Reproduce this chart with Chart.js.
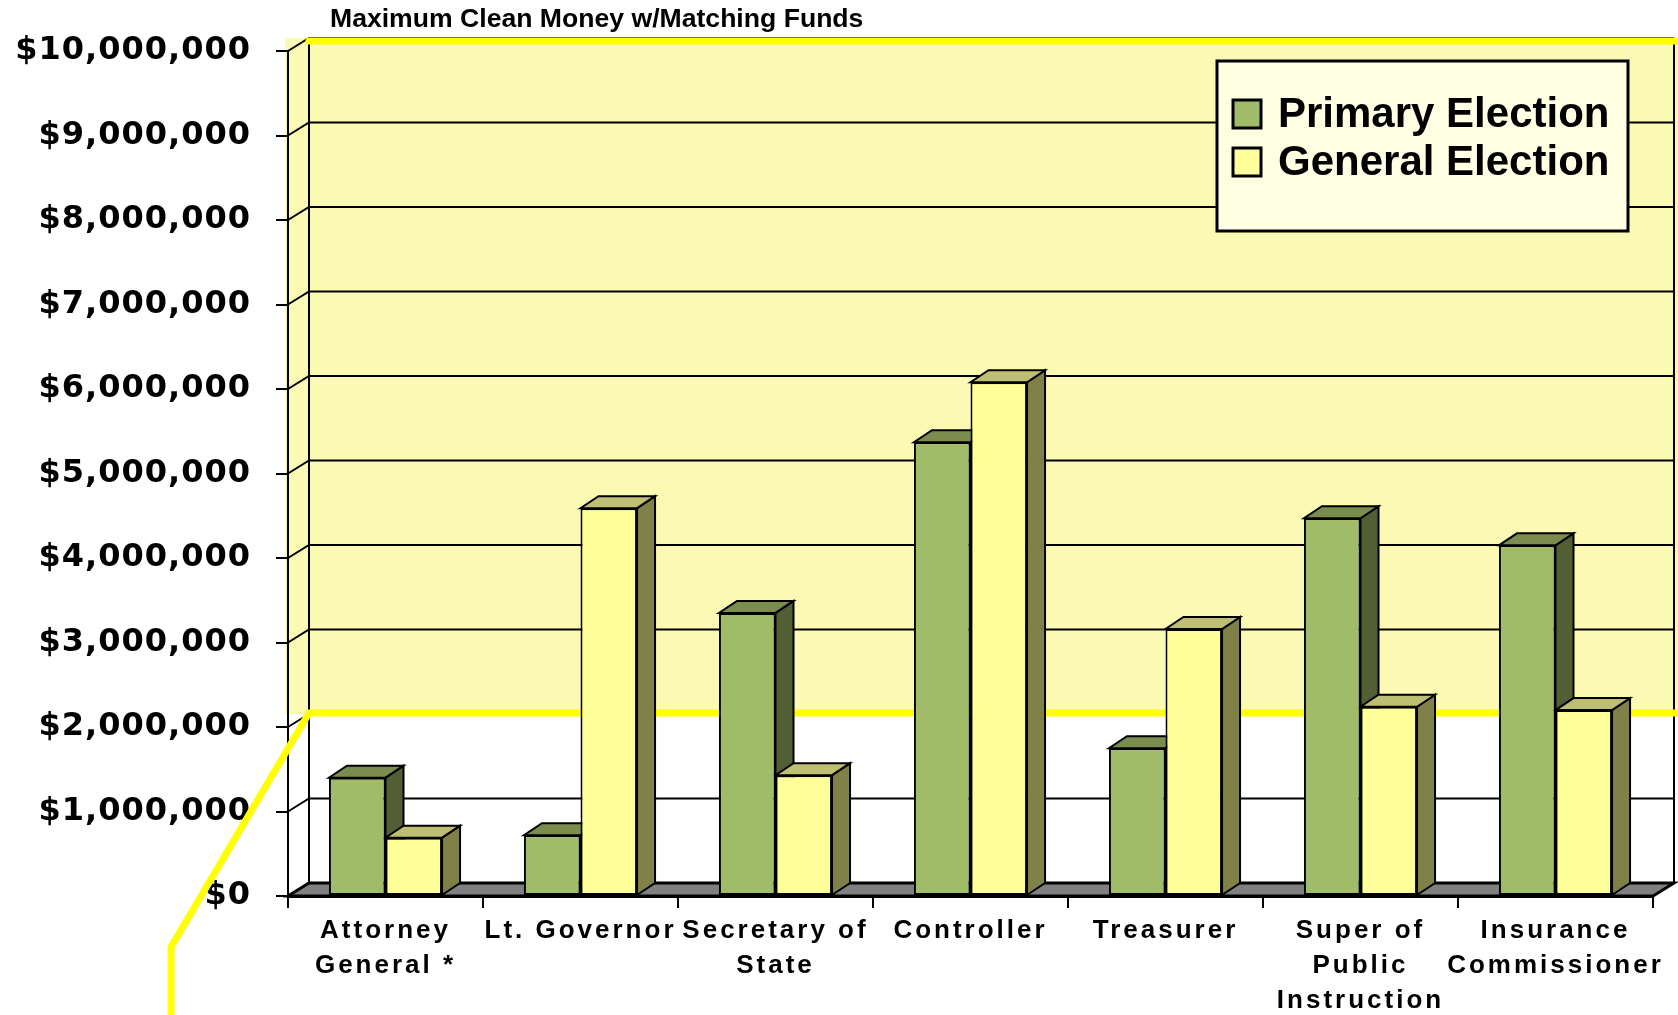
<!DOCTYPE html>
<html>
<head>
<meta charset="utf-8">
<title>Maximum Clean Money w/Matching Funds</title>
<script src="https://cdn.jsdelivr.net/npm/chart.js@4.4.1/dist/chart.umd.min.js"></script>
<style>
  body { margin: 0; background: #fff; }
  canvas { display: block; }
</style>
</head>
<body>
<canvas id="chart" width="1678" height="1015"></canvas>
<script>
// Data
const chartTitle = "Maximum Clean Money w/Matching Funds";
const offices = [
    ["Attorney", "General *"],
    "Lt. Governor",
    ["Secretary of", "State"],
    "Controller",
    "Treasurer",
    ["Super of", "Public", "Instruction"],
    ["Insurance", "Commissioner"]
];
const primary = [1400000, 720000, 3350000, 5370000, 1750000, 4470000, 4150000];
const general = [690000, 4590000, 1430000, 6080000, 3160000, 2240000, 2200000];
const yMax = 10000000;
const yStep = 1000000;
const highlightFrom = 2000000;   // yellow marked band on the back wall

// 3D look: offset of back wall and of the bar boxes
const wall = { dx: 21, dy: -13 };
const box = { dx: 18, dy: -12 };

// Axes that draw their labels with letter spacing
class SpacedCategoryScale extends Chart.CategoryScale {
    static id = 'spacedCategory';
    static defaults = Chart.CategoryScale.defaults;
    drawLabels(area) {
        this.ctx.save();
        this.ctx.letterSpacing = '3px';
        super.drawLabels(area);
        this.ctx.restore();
    }
}
class SpacedLinearScale extends Chart.LinearScale {
    static id = 'spacedLinear';
    static defaults = Chart.LinearScale.defaults;
    drawLabels(area) {
        this.ctx.save();
        this.ctx.letterSpacing = '1px';
        super.drawLabels(area);
        this.ctx.restore();
    }
}
Chart.register(SpacedCategoryScale, SpacedLinearScale);

function dotPattern(ctx) {
    const c = document.createElement('canvas');
    c.width = 2;
    c.height = 2;
    const p = c.getContext('2d');
    p.fillStyle = '#FFFFC0';
    p.fillRect(0, 0, 2, 2);
    p.fillStyle = '#F7F4AA';
    p.fillRect(0, 0, 1, 1);
    p.fillRect(1, 1, 1, 1);
    return ctx.createPattern(c, 'repeat');
}

function poly(ctx, pts, fill) {
    ctx.beginPath();
    ctx.moveTo(pts[0][0], pts[0][1]);
    for (let i = 1; i < pts.length; i++) ctx.lineTo(pts[i][0], pts[i][1]);
    ctx.closePath();
    if (fill) {
        ctx.fillStyle = fill;
        ctx.fill();
    }
    ctx.stroke();
}

const scene = {
    id: 'scene',
    beforeDraw(chart) {
        const { ctx, chartArea: a, scales: { y } } = chart;
        const top = y.getPixelForValue(yMax) + wall.dy;
        const hl = y.getPixelForValue(highlightFrom) + wall.dy;
        ctx.save();
        ctx.fillStyle = '#fff';
        ctx.fillRect(0, 0, chart.width, chart.height);
        // yellow marked area
        ctx.fillStyle = dotPattern(ctx);
        ctx.fillRect(a.left - 3, top, chart.width - a.left + 3, hl - top);
        // back wall gridlines
        ctx.strokeStyle = '#000';
        ctx.lineWidth = 2;
        ctx.beginPath();
        y.ticks.forEach(t => {
            const py = y.getPixelForValue(t.value);
            ctx.moveTo(a.left, py);
            ctx.lineTo(a.left + wall.dx, py + wall.dy);
            ctx.lineTo(a.right + wall.dx, py + wall.dy);
        });
        ctx.moveTo(a.left + wall.dx, top);
        ctx.lineTo(a.left + wall.dx, a.bottom + wall.dy);
        ctx.moveTo(a.right + wall.dx, top);
        ctx.lineTo(a.right + wall.dx, a.bottom + wall.dy);
        ctx.stroke();
        // floor
        ctx.lineWidth = 3;
        poly(ctx, [
            [a.left, a.bottom], [a.right, a.bottom],
            [a.right + wall.dx, a.bottom + wall.dy], [a.left + wall.dx, a.bottom + wall.dy]
        ], '#808080');
        ctx.restore();
    },
    beforeDatasetsDraw(chart) {
        const { ctx, chartArea: a, scales: { y } } = chart;
        const top = y.getPixelForValue(yMax) + wall.dy + 3;
        const hl = y.getPixelForValue(highlightFrom) + wall.dy - 1;
        ctx.save();
        // yellow marker lines, behind the bars
        ctx.strokeStyle = '#FFFF00';
        ctx.lineWidth = 7;
        ctx.lineCap = 'round';
        ctx.lineJoin = 'round';
        ctx.beginPath();
        ctx.moveTo(chart.width + 5, top);
        ctx.lineTo(a.left + wall.dx, top);
        ctx.moveTo(chart.width + 5, hl);
        ctx.lineTo(a.left + wall.dx, hl);
        ctx.lineTo(a.left - 117, a.bottom + 51);
        ctx.lineTo(a.left - 117, chart.height + 5);
        ctx.stroke();
        // side and top faces of the bars
        ctx.strokeStyle = '#000';
        ctx.lineWidth = 2;
        ctx.lineJoin = 'miter';
        chart.data.datasets.forEach((ds, i) => {
            chart.getDatasetMeta(i).data.forEach(bar => {
                const { x, y: by, base, width } = bar.getProps(['x', 'y', 'base', 'width'], true);
                const l = x - width / 2, r = x + width / 2;
                poly(ctx, [[r, by], [r + box.dx, by + box.dy], [r + box.dx, base + box.dy], [r, base]], ds.sideColor);
                poly(ctx, [[l, by], [r, by], [r + box.dx, by + box.dy], [l + box.dx, by + box.dy]], ds.topColor);
            });
        });
        ctx.restore();
    },
    afterDraw(chart) {
        const ctx = chart.ctx;
        ctx.save();
        // title
        ctx.fillStyle = '#000';
        ctx.font = 'bold 26.6px "Liberation Sans", Arial, sans-serif';
        ctx.textBaseline = 'middle';
        ctx.textAlign = 'left';
        ctx.fillText(chartTitle, 330, 20);
        // legend box
        ctx.fillStyle = '#FFFFE4';
        ctx.fillRect(1217, 61, 411, 170);
        ctx.strokeStyle = '#000';
        ctx.lineWidth = 3;
        ctx.strokeRect(1217, 61, 411, 170);
        ctx.font = 'bold 42px "Liberation Sans", Arial, sans-serif';
        chart.data.datasets.forEach((ds, i) => {
            const cy = 114 + i * 48;
            ctx.fillStyle = ds.backgroundColor;
            ctx.fillRect(1233, cy - 14, 28, 28);
            ctx.strokeRect(1233, cy - 14, 28, 28);
            ctx.fillStyle = '#000';
            ctx.fillText(ds.label, 1278, cy + 1);
        });
        ctx.restore();
    }
};

const context = document.getElementById('chart').getContext('2d');
const chart = new Chart(context, {
    type: 'bar',
    data: {
        labels: offices,
        datasets: [{
            label: 'Primary Election',
            data: primary,
            backgroundColor: '#A1BC68',
            sideColor: '#525F35',
            topColor: '#7B8C4F',
            borderColor: '#000',
            borderWidth: 2,
            borderSkipped: false
        }, {
            label: 'General Election',
            data: general,
            backgroundColor: '#FFFF99',
            sideColor: '#808049',
            topColor: '#BFBF74',
            borderColor: '#000',
            borderWidth: 2,
            borderSkipped: false
        }]
    },
    options: {
        responsive: false,
        animation: false,
        categoryPercentage: 0.58,
        barPercentage: 1.0,
        layout: { padding: { top: 51, right: 25, left: 0, bottom: 0 } },
        plugins: {
            legend: { display: false },
            title: { display: false },
            tooltip: { enabled: false }
        },
        scales: {
            x: {
                type: 'spacedCategory',
                offset: true,
                grid: {
                    offset: true,
                    drawOnChartArea: false,
                    drawTicks: true,
                    tickLength: 12,
                    color: '#000',
                    lineWidth: 2
                },
                border: { display: true, color: '#000', width: 3 },
                ticks: {
                    autoSkip: false,
                    maxRotation: 0,
                    minRotation: 0,
                    padding: 6,
                    color: '#000',
                    font: { family: '"Liberation Sans", Arial, sans-serif', size: 26, weight: 'bold', lineHeight: 1.33 }
                },
                afterFit(scale) { scale.height = 119; }
            },
            y: {
                type: 'spacedLinear',
                min: 0,
                max: yMax,
                grid: {
                    drawOnChartArea: false,
                    drawTicks: true,
                    tickLength: 12,
                    color: '#000',
                    lineWidth: 2
                },
                border: { display: true, color: '#000', width: 2 },
                ticks: {
                    stepSize: yStep,
                    padding: 25,
                    color: '#000',
                    font: { family: '"DejaVu Sans", Verdana, sans-serif', size: 32, weight: 'bold' },
                    callback: v => '$' + v.toLocaleString('en-US')
                },
                afterFit(scale) { scale.width = 288; }
            }
        }
    },
    plugins: [scene]
});
</script>
</body>
</html>
